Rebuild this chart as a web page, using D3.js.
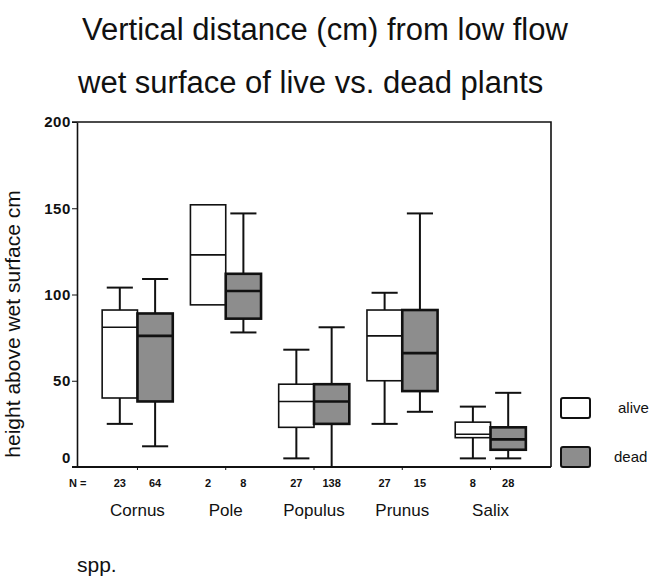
<!DOCTYPE html>
<html>
<head>
<meta charset="utf-8">
<script src="https://cdn.jsdelivr.net/npm/d3@7"></script>
<style>
  body { margin: 0; background: #fff; }
  text { font-family: Arial, "Liberation Sans", Helvetica, sans-serif; fill: #111; }
</style>
</head>
<body>
<svg id="chart" width="659" height="580"></svg>
<script>
// data
const categories = ['Cornus', 'Pole', 'Populus', 'Prunus', 'Salix']
// [min, q1, median, q3, max]
const aliveBoxes = [
  [25, 40, 81, 91, 104],
  [94, 94, 123, 152, 152],
  [5, 23, 38, 48, 68],
  [25, 50, 76, 91, 101],
  [5, 17, 19, 26, 35]
]
const deadBoxes = [
  [12, 38, 76, 89, 109],
  [78, 86, 102, 112, 147],
  [0, 25, 38, 48, 81],
  [32, 44, 66, 91, 147],
  [5, 10, 16, 23, 43]
]
const nAlive = [23, 2, 27, 27, 8]
const nDead = [64, 8, 138, 15, 28]
const yTicks = [0, 50, 100, 150, 200]

const svg = d3.select('#chart')
const margin = { top: 122, right: 108, bottom: 113, left: 77 }
const width = 659, height = 580
const x0 = margin.left, x1 = width - margin.right
const yTop = margin.top, yBot = height - margin.bottom
const grey = '#8d8d8d'

const x = d3.scaleBand().domain(categories).range([x0, x1]).paddingInner(0).paddingOuter(0.185)
const y = d3.scaleLinear().domain([0, 200]).range([yBot, yTop])
const bw = x.bandwidth() * 0.4
const capW = bw * 0.74
const cx = c => x(c) + x.bandwidth() / 2

// title
const title = ['Vertical distance (cm) from low flow', 'wet surface of live vs. dead plants']
svg.selectAll('.title').data(title).join('text')
  .attr('class', 'title')
  .attr('x', (d, i) => i ? 78 : 82)
  .attr('y', (d, i) => 40 + i * 53)
  .style('font-size', '31px')
  .text(d => d)

// frame top/right
svg.append('path')
  .attr('d', `M${x0 - 5},${yTop}H${x1}V${yBot}`)
  .attr('fill', 'none').attr('stroke', '#111').attr('stroke-width', 1.6)

// left axis
const ya = svg.append('g').attr('transform', `translate(${x0},0)`)
  .call(d3.axisLeft(y).tickValues(yTicks).tickSize(5).tickPadding(1).tickSizeOuter(0))
ya.select('.domain').attr('stroke', '#111').attr('stroke-width', 1.6)
ya.selectAll('.tick line').attr('stroke', '#111')
ya.selectAll('.tick text')
  .style('font-size', '15px').style('font-weight', 'bold').style('letter-spacing', '0.6px')
  .attr('fill', '#111')
  .attr('dy', d => d === 0 ? '-0.3em' : '0.32em')

// bottom axis
const xa = svg.append('g').attr('transform', `translate(0,${yBot})`)
  .call(d3.axisBottom(x).tickSize(3).tickSizeOuter(0).tickFormat(''))
xa.select('.domain').attr('stroke', '#111').attr('stroke-width', 1.8)
  .attr('d', `M${x0 - 5},0H${x1}`)
xa.selectAll('.tick line').attr('stroke', '#111')

// y label
svg.append('text')
  .attr('transform', `translate(20,${(185 + 463) / 2}) rotate(-90)`)
  .attr('text-anchor', 'middle')
  .style('font-size', '21px')
  .text('height above wet surface cm')

// boxes
function drawBoxes(data, side, fill, sw) {
  const g = svg.append('g')
  data.forEach((s, i) => {
    const c = categories[i]
    const left = side === 'alive' ? cx(c) - bw : cx(c)
    const mid = left + bw / 2
    const [mn, q1, md, q3, mx] = s
    const bg = g.append('g')
    if (mx > q3) {
      bg.append('line').attr('x1', mid).attr('x2', mid).attr('y1', y(mx)).attr('y2', y(q3))
      bg.append('line').attr('x1', mid - capW / 2).attr('x2', mid + capW / 2).attr('y1', y(mx)).attr('y2', y(mx))
    }
    if (mn < q1) {
      bg.append('line').attr('x1', mid).attr('x2', mid).attr('y1', y(q1)).attr('y2', y(mn))
      if (mn > 0) bg.append('line').attr('x1', mid - capW / 2).attr('x2', mid + capW / 2).attr('y1', y(mn)).attr('y2', y(mn))
    }
    bg.selectAll('line').attr('stroke', '#111').attr('stroke-width', 2)
    bg.append('rect')
      .attr('x', left).attr('width', bw)
      .attr('y', y(q3)).attr('height', y(q1) - y(q3))
      .attr('fill', fill).attr('stroke', '#111').attr('stroke-width', sw)
    bg.append('line')
      .attr('x1', left).attr('x2', left + bw).attr('y1', y(md)).attr('y2', y(md))
      .attr('stroke', '#111').attr('stroke-width', sw)
  })
}
drawBoxes(aliveBoxes, 'alive', '#fff', 1.6)
drawBoxes(deadBoxes, 'dead', grey, 2.6)

// N labels
svg.append('text').attr('x', 69).attr('y', 487)
  .style('font-size', '11px').style('font-weight', 'bold').text('N =')
const nLab = svg.append('g').style('font-size', '11px').style('font-weight', 'bold').attr('text-anchor', 'middle')
nLab.selectAll('.na').data(nAlive).join('text').attr('class', 'na')
  .attr('x', (d, i) => cx(categories[i]) - bw / 2).attr('y', 487).text(d => d)
nLab.selectAll('.nd').data(nDead).join('text').attr('class', 'nd')
  .attr('x', (d, i) => cx(categories[i]) + bw / 2).attr('y', 487).text(d => d)

// category labels
svg.selectAll('.cat').data(categories).join('text').attr('class', 'cat')
  .attr('x', d => cx(d)).attr('y', 516)
  .attr('text-anchor', 'middle')
  .style('font-size', '17px')
  .text(d => d)

svg.append('text').attr('x', 77).attr('y', 572).style('font-size', '21px').text('spp.')

// legend
const legend = [{ k: 'alive', fill: '#fff', y: 398 }, { k: 'dead', fill: grey, y: 447 }]
const lg = svg.append('g')
legend.forEach(l => {
  lg.append('rect').attr('x', 561).attr('y', l.y).attr('width', 29).attr('height', 20)
    .attr('rx', 2).attr('fill', l.fill).attr('stroke', '#111').attr('stroke-width', 2)
  lg.append('text').attr('x', l.k === 'alive' ? 618 : 614).attr('y', l.y + 15)
    .style('font-size', '15px').text(l.k)
})
</script>
</body>
</html>
